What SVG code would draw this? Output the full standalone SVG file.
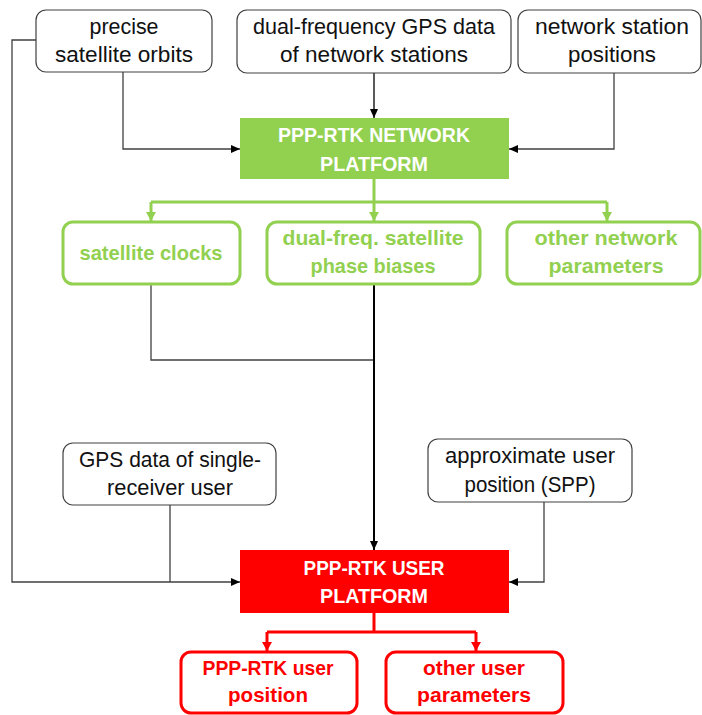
<svg xmlns="http://www.w3.org/2000/svg" width="702" height="715" viewBox="0 0 702 715">
<defs>
<style>
.wb{fill:#fff;stroke:#404040;stroke-width:1.2}
.wt{font-family:"Liberation Sans",Arial,sans-serif;font-size:22px;fill:#111;text-anchor:middle}
.gb{fill:#fff;stroke:#92D050;stroke-width:3}
.gt{font-family:"Liberation Sans",Arial,sans-serif;font-size:21px;font-weight:bold;fill:#92D050;text-anchor:middle}
.rb{fill:#fff;stroke:#FF0000;stroke-width:3}
.rt{font-family:"Liberation Sans",Arial,sans-serif;font-size:21px;font-weight:bold;fill:#FF0000;text-anchor:middle}
.mt{font-family:"Liberation Sans",Arial,sans-serif;font-size:21px;font-weight:bold;fill:#fff;text-anchor:middle}
.cg{fill:none;stroke:#404040;stroke-width:1.3}
.ck{fill:none;stroke:#000;stroke-width:1.3}
.ckb{fill:none;stroke:#000;stroke-width:2}
.cgr{fill:none;stroke:#92D050;stroke-width:3}
.crd{fill:none;stroke:#FF0000;stroke-width:3}
</style>
<marker id="ak" markerUnits="userSpaceOnUse" markerWidth="10" markerHeight="8" refX="9" refY="4" orient="auto"><path d="M0,0 L9,4 L0,8 z" fill="#000"/></marker>
<marker id="ag" markerUnits="userSpaceOnUse" markerWidth="10" markerHeight="10" refX="9" refY="5" orient="auto"><path d="M0,0 L9,5 L0,10 z" fill="#92D050"/></marker>
<marker id="ar" markerUnits="userSpaceOnUse" markerWidth="10" markerHeight="10" refX="9" refY="5" orient="auto"><path d="M0,0 L9,5 L0,10 z" fill="#FF0000"/></marker>
</defs>
<rect width="702" height="715" fill="#fff"/>
<g id="connectors">
<path class="cg" d="M123,72 V149 H240" marker-end="url(#ak)"/>
<path class="ck" d="M374,73 V118" marker-end="url(#ak)"/>
<path class="cg" d="M614,73 V149 H509" marker-end="url(#ak)"/>
<path class="cg" d="M36,40 H12 V582 H240" marker-end="url(#ak)"/>
<path class="cgr" d="M374,179 V202"/>
<path class="cgr" d="M151,202 H607"/>
<path class="cgr" d="M151,202 V221" marker-end="url(#ag)"/>
<path class="cgr" d="M374,202 V221" marker-end="url(#ag)"/>
<path class="cgr" d="M607,202 V221" marker-end="url(#ag)"/>
<path class="cg" d="M151,285 V360 H374"/>
<path class="ckb" d="M374,285 V550" marker-end="url(#ak)"/>
<path class="cg" d="M170,505 V582"/>
<path class="cg" d="M544,502 V582 H509" marker-end="url(#ak)"/>
<path class="crd" d="M374,613 V632"/>
<path class="crd" d="M267,632 H476"/>
<path class="crd" d="M267,632 V651" marker-end="url(#ar)"/>
<path class="crd" d="M476,632 V651" marker-end="url(#ar)"/>
</g>
<g id="n-orbits">
<rect class="wb" x="36" y="10" width="176" height="62" rx="10"/>
<text class="wt" x="124" y="34" textLength="69" lengthAdjust="spacingAndGlyphs">precise</text>
<text class="wt" x="124" y="62" textLength="138" lengthAdjust="spacingAndGlyphs">satellite orbits</text>
</g>
<g id="n-gpsnet">
<rect class="wb" x="237" y="10" width="274" height="63" rx="10"/>
<text class="wt" x="374" y="34" textLength="242" lengthAdjust="spacingAndGlyphs">dual-frequency GPS data</text>
<text class="wt" x="374" y="62" textLength="188" lengthAdjust="spacingAndGlyphs">of network stations</text>
</g>
<g id="n-stations">
<rect class="wb" x="518" y="10" width="183" height="63" rx="10"/>
<text class="wt" x="612" y="34" textLength="154" lengthAdjust="spacingAndGlyphs">network station</text>
<text class="wt" x="612" y="62" textLength="88" lengthAdjust="spacingAndGlyphs">positions</text>
</g>
<g id="n-network">
<rect x="240" y="118" width="269" height="61" fill="#92D050"/>
<text class="mt" x="374" y="142" textLength="192" lengthAdjust="spacingAndGlyphs">PPP-RTK NETWORK</text>
<text class="mt" x="374" y="171" textLength="108" lengthAdjust="spacingAndGlyphs">PLATFORM</text>
</g>
<g id="n-clocks">
<rect class="gb" x="63" y="222" width="177" height="62" rx="10"/>
<text class="gt" x="151" y="260" textLength="143" lengthAdjust="spacingAndGlyphs">satellite clocks</text>
</g>
<g id="n-biases">
<rect class="gb" x="267" y="222" width="213" height="62" rx="10"/>
<text class="gt" x="373" y="245" textLength="181" lengthAdjust="spacingAndGlyphs">dual-freq. satellite</text>
<text class="gt" x="373" y="273" textLength="125" lengthAdjust="spacingAndGlyphs">phase biases</text>
</g>
<g id="n-othernet">
<rect class="gb" x="507" y="222" width="193" height="62" rx="10"/>
<text class="gt" x="606" y="245" textLength="143" lengthAdjust="spacingAndGlyphs">other network</text>
<text class="gt" x="606" y="273" textLength="115" lengthAdjust="spacingAndGlyphs">parameters</text>
</g>
<g id="n-gpsuser">
<rect class="wb" x="63" y="443" width="213" height="62" rx="10"/>
<text class="wt" x="170" y="467" textLength="182" lengthAdjust="spacingAndGlyphs">GPS data of single-</text>
<text class="wt" x="170" y="495" textLength="126" lengthAdjust="spacingAndGlyphs">receiver user</text>
</g>
<g id="n-spp">
<rect class="wb" x="428" y="439" width="204" height="63" rx="10"/>
<text class="wt" x="530" y="463" textLength="170" lengthAdjust="spacingAndGlyphs">approximate user</text>
<text class="wt" x="530" y="492" textLength="131" lengthAdjust="spacingAndGlyphs">position (SPP)</text>
</g>
<g id="n-user">
<rect x="240" y="550" width="269" height="63" fill="#FF0000"/>
<text class="mt" x="374" y="575" textLength="141" lengthAdjust="spacingAndGlyphs">PPP-RTK USER</text>
<text class="mt" x="374" y="603" textLength="108" lengthAdjust="spacingAndGlyphs">PLATFORM</text>
</g>
<g id="n-userpos">
<rect class="rb" x="181" y="652" width="176" height="61" rx="10"/>
<text class="rt" x="268" y="675" textLength="131" lengthAdjust="spacingAndGlyphs">PPP-RTK user</text>
<text class="rt" x="268" y="702" textLength="80" lengthAdjust="spacingAndGlyphs">position</text>
</g>
<g id="n-otheruser">
<rect class="rb" x="386" y="652" width="177" height="61" rx="10"/>
<text class="rt" x="474" y="675" textLength="102" lengthAdjust="spacingAndGlyphs">other user</text>
<text class="rt" x="474" y="702" textLength="114" lengthAdjust="spacingAndGlyphs">parameters</text>
</g>
</svg>
